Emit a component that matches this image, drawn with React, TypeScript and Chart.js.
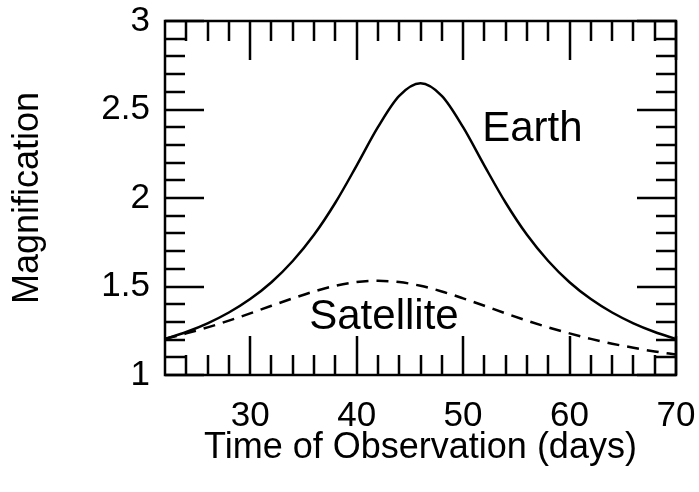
import React, { useEffect, useRef } from "react";
import { Chart, registerables } from "chart.js";

Chart.register(...registerables);

// ---- data ----
const times = [22, 24, 26, 28, 30, 32, 34, 36, 38, 40, 42, 44, 46, 48, 50, 52, 54, 56, 58, 60, 62, 64, 66, 68, 70];
const earth = [1.203, 1.243, 1.292, 1.353, 1.429, 1.524, 1.644, 1.792, 1.973, 2.183, 2.4, 2.577, 2.648, 2.577, 2.4, 2.183, 1.973, 1.792, 1.644, 1.524, 1.429, 1.353, 1.292, 1.243, 1.203];
const satellite = [1.204, 1.235, 1.269, 1.307, 1.348, 1.391, 1.433, 1.472, 1.504, 1.525, 1.532, 1.525, 1.504, 1.472, 1.433, 1.391, 1.348, 1.307, 1.269, 1.235, 1.204, 1.177, 1.154, 1.133, 1.116];

const xMajorTicks = [30, 40, 50, 60, 70];
const xMinorTicks = [24, 26, 28, 32, 34, 36, 38, 42, 44, 46, 48, 52, 54, 56, 58, 62, 64, 66, 68];
const yMajorTicks = [1, 1.5, 2, 2.5, 3];
const yMinorTicks = [1.1, 1.2, 1.3, 1.4, 1.6, 1.7, 1.8, 1.9, 2.1, 2.2, 2.3, 2.4, 2.6, 2.7, 2.8, 2.9];
const yTickLabels = ["1", "1.5", "2", "2.5", "3"];

const curveLabels = [
  { text: "Earth", x: 51.8, y: 2.32 },
  { text: "Satellite", x: 35.55, y: 1.258 },
];

const FONT = "'Liberation Sans', Arial, sans-serif";

const frameTicksPlugin = {
  id: "frameTicks",
  afterDatasetsDraw(chart: any) {
    const { ctx, chartArea } = chart;
    const xs = chart.scales.x;
    const ys = chart.scales.y;
    const { left, right, top, bottom } = chartArea;
    ctx.save();
    ctx.strokeStyle = "#000";
    ctx.lineWidth = 2.5;
    ctx.lineCap = "butt";
    ctx.beginPath();
    const tick = (vals: number[], len: number) => {
      vals.forEach((v) => {
        const px = Math.round(xs.getPixelForValue(v));
        ctx.moveTo(px, bottom);
        ctx.lineTo(px, bottom - len);
        ctx.moveTo(px, top);
        ctx.lineTo(px, top + len);
      });
    };
    const tickY = (vals: number[], len: number) => {
      vals.forEach((v) => {
        const py = Math.round(ys.getPixelForValue(v));
        ctx.moveTo(left, py);
        ctx.lineTo(left + len, py);
        ctx.moveTo(right, py);
        ctx.lineTo(right - len, py);
      });
    };
    tick(xMajorTicks, 39);
    tick(xMinorTicks, 20);
    tickY(yMajorTicks, 39);
    tickY(yMinorTicks, 20);
    ctx.stroke();
    ctx.lineWidth = 2.5;
    ctx.strokeRect(left, top, right - left, bottom - top);

    ctx.fillStyle = "#000";
    ctx.font = `42px ${FONT}`;
    ctx.textAlign = "left";
    ctx.textBaseline = "alphabetic";
    curveLabels.forEach((l) => {
      ctx.fillText(l.text, xs.getPixelForValue(l.x), ys.getPixelForValue(l.y));
    });
    ctx.restore();
  },
};

export default function App() {
  const canvasRef = useRef<HTMLCanvasElement | null>(null);

  useEffect(() => {
    document.body.style.margin = "0";
    const canvas = canvasRef.current;
    if (!canvas) return;
    const chart = new Chart(canvas, {
      type: "line",
      data: {
        datasets: [
          {
            label: "Earth",
            data: times.map((t, i) => ({ x: t, y: earth[i] })),
            borderColor: "#000",
            borderWidth: 2.5,
            pointRadius: 0,
            cubicInterpolationMode: "monotone",
            fill: false,
          },
          {
            label: "Satellite",
            data: times.map((t, i) => ({ x: t, y: satellite[i] })),
            borderColor: "#000",
            borderWidth: 2.5,
            borderDash: [12, 8],
            pointRadius: 0,
            cubicInterpolationMode: "monotone",
            fill: false,
          },
        ],
      },
      options: {
        animation: false,
        responsive: true,
        maintainAspectRatio: false,
        layout: { padding: { top: 21, right: 23, left: 0, bottom: 0 } },
        plugins: {
          legend: { display: false },
          tooltip: { enabled: false },
        },
        scales: {
          x: {
            type: "linear",
            min: 22,
            max: 70,
            grid: { display: false, drawTicks: false },
            border: { display: false },
            afterBuildTicks: (scale: any) => {
              scale.ticks = xMajorTicks.map((v) => ({ value: v }));
            },
            afterFit: (scale: any) => {
              scale.height = 117;
              scale.paddingLeft = 0;
              scale.paddingRight = 0;
            },
            ticks: {
              color: "#000",
              padding: 20,
              maxRotation: 0,
              autoSkip: false,
              font: { family: FONT, size: 35 },
              callback: (v: any) => String(v),
            },
            title: {
              display: true,
              text: "Time of Observation (days)",
              color: "#000",
              font: { family: FONT, size: 36 },
              padding: { top: 0, bottom: 22 },
            },
          },
          y: {
            type: "linear",
            min: 1,
            max: 3,
            grid: { display: false, drawTicks: false },
            border: { display: false },
            afterBuildTicks: (scale: any) => {
              scale.ticks = yMajorTicks.map((v) => ({ value: v }));
            },
            afterFit: (scale: any) => {
              scale.width = 165;
              scale.paddingTop = 0;
              scale.paddingBottom = 0;
            },
            ticks: {
              color: "#000",
              padding: 15,
              autoSkip: false,
              font: { family: FONT, size: 35 },
              callback: (v: any) => {
                const i = yMajorTicks.indexOf(Number(v));
                return i >= 0 ? yTickLabels[i] : "";
              },
            },
            title: {
              display: true,
              text: "Magnification",
              color: "#000",
              font: { family: FONT, size: 36 },
              padding: { top: 6, bottom: 0 },
            },
          },
        },
      },
      plugins: [frameTicksPlugin],
    });
    return () => chart.destroy();
  }, []);

  return (
    <div style={{ position: "relative", width: 699, height: 492 }}>
      <canvas ref={canvasRef} />
    </div>
  );
}
